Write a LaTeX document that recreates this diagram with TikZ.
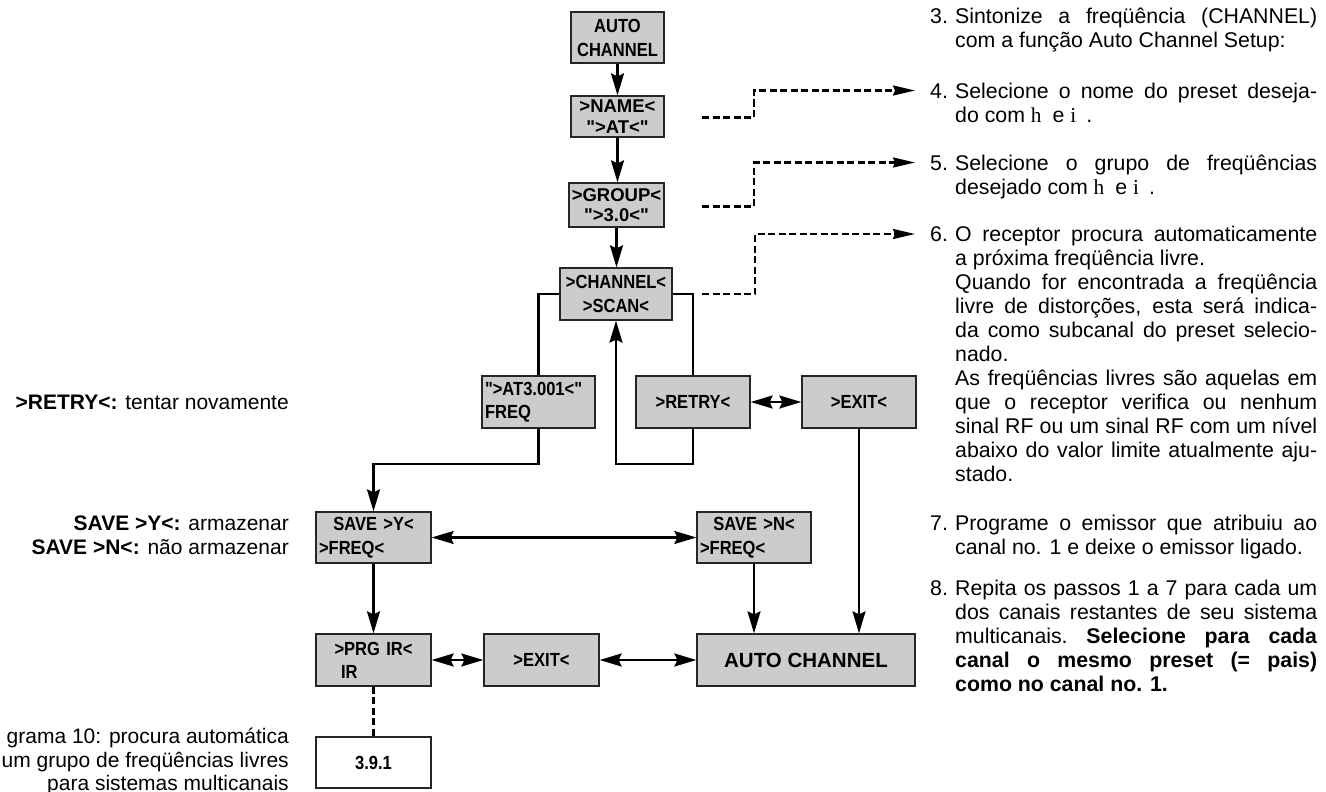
\documentclass[tikz,border=0pt]{standalone}
\usepackage{fontspec}
\setmainfont{Liberation Sans}
\newfontfamily\bxf[FakeStretch=0.87]{Liberation Sans}
\newfontfamily\bxn{Liberation Sans}
\newfontfamily\serf{Liberation Serif}
\usetikzlibrary{arrows.meta}
\definecolor{boxgray}{HTML}{CCCCCC}
\newcommand\myjust[1]{\makebox[362pt][s]{#1}}
\newcommand\mylast[1]{\makebox[362pt][l]{#1}}
\newcommand\mynum[1]{\makebox[25pt][l]{\strut#1}}
\newcommand\myind{\hspace*{25pt}}
\begin{document}
\begin{tikzpicture}[x=1pt,y=-1pt,
  >={Stealth[length=22pt,width=13pt,inset=3pt]},
  box/.style={draw=black!85, line width=1.3pt, fill=boxgray, inner sep=0pt, align=center,
     font=\bxf\bfseries\fontsize{19}{24}\selectfont},
  boxtight/.style={box, font=\bxn\bfseries\fontsize{18.5}{20.5}\selectfont},
  conn/.style={line width=2.2pt},
  dsh/.style={line width=2.3pt, dash pattern=on 7pt off 3.5pt, -{Stealth[length=22pt,width=10pt,inset=2pt]}},
  body/.style={inner sep=0pt, font=\fontsize{21}{23.6}\selectfont},
  item/.style={inner sep=0pt, font=\fontsize{21.3}{24}\selectfont, align=left, anchor=north west},
]
\useasboundingbox (0,0) rectangle (1326,792);
% ---------- boxes
\node[box, minimum width=93pt, minimum height=51pt] (auto) at (617.5,37.5) {AUTO\\CHANNEL};
\node[boxtight, minimum width=93pt, minimum height=41pt] (name) at (617.5,116.5) {>NAME<\\">AT<"};
\node[boxtight, minimum width=95pt, minimum height=44pt] (group) at (616.5,205) {>GROUP<\\">3.0<"};
\node[box, minimum width=112pt, minimum height=52pt] (chan) at (616,294) {>CHANNEL<\\>SCAN<};
\node[box, minimum width=113pt, minimum height=52pt, text width=107pt, align=left, font=\bxf\bfseries\fontsize{19}{23}\selectfont] (at3) at (538.5,402) {">AT3.001<"\\FREQ};
\node[box, minimum width=114pt, minimum height=52pt] (retry) at (693,402) {>RETRY<};
\node[box, minimum width=114pt, minimum height=52pt] (exita) at (859,402) {>EXIT<};
\node[box, minimum width=115pt, minimum height=51pt, text width=109pt, align=left] (savey) at (373.5,537.5) {\makebox[109pt]{SAVE >Y<}\\>FREQ<};
\node[box, minimum width=114pt, minimum height=51pt, text width=108pt, align=left] (saven) at (754,537.5) {\makebox[108pt]{SAVE >N<}\\>FREQ<};
\node[box, minimum width=115pt, minimum height=52pt, text width=109pt, align=left, font=\bxf\bfseries\fontsize{19}{23}\selectfont] (prg) at (373.5,660) {\makebox[109pt]{>PRG IR<}\\\hspace*{22pt}IR};
\node[box, minimum width=115pt, minimum height=52pt] (exitb) at (541.5,660) {>EXIT<};
\node[box, minimum width=218pt, minimum height=52pt, font=\bxn\bfseries\fontsize{20.5}{24}\selectfont] (autoch) at (806,660) {AUTO CHANNEL};
\node[box, fill=white, minimum width=115pt, minimum height=51pt] (b391) at (373.5,762.5) {3.9.1};
% ---------- connectors
\draw[conn,->] (auto.south) -- (auto.south |- name.north);
\draw[conn,->] (name.south) -- (name.south |- group.north);
\draw[conn,->] (group.south) -- (group.south |- chan.north);
\draw[conn] (chan.west) -| (at3.north);
\draw[conn] (chan.east) -| (retry.north);
\coordinate (loopR) at (616,464);
\draw[conn,->] (retry.south) |- (loopR) -- (chan.south);
\coordinate (loopL) at (373.5,464);
\draw[conn,->] (at3.south) |- (loopL) -- (savey.north);
\draw[conn,<->] (retry) -- (exita);
\draw[conn,->] (exita.south) -- (exita.south |- autoch.north);
\draw[conn,<->] (savey) -- (saven);
\draw[conn,->] (savey) -- (prg);
\draw[conn,<->] (prg) -- (exitb);
\draw[conn,<->] (exitb) -- (autoch);
\draw[conn,->] (saven.south) -- (saven.south |- autoch.north);
\draw[line width=2.2pt, dash pattern=on 7pt off 3.5pt] (prg) -- (b391);
% ---------- dashed pointers
\coordinate (d4) at (702,117.5); \coordinate (t4) at (915,90.5);
\coordinate (d5) at (702,206.5); \coordinate (t5) at (915,162.5);
\coordinate (d6) at (702,294);   \coordinate (t6) at (915,234);
\draw[dsh] (d4) -- ++(52,0) |- (t4);
\draw[dsh] (d5) -- ++(52,0) |- (t5);
\draw[dsh] (d6) -- ++(53,0) |- (t6);
% ---------- left texts
\node[body, anchor=east, align=right] (lretry) at (289,402) {\textbf{>RETRY<:} tentar novamente};
\node[body, anchor=east, align=right] (lsave) at (289,535) {\textbf{SAVE >Y<:} armazenar\\\textbf{SAVE >N<:} não armazenar};
\node[body, anchor=north east, align=right] (capt) at (289,728) {grama 10: procura automática\\um grupo de freqüências livres\\para sistemas multicanais};
% ---------- right texts
\node[item] (i3) at (930,6.7) {\mynum{3.}\myjust{Sintonize a freqüência (CHANNEL)}\\
 \myind\mylast{com a função Auto Channel Setup:}};
\node[item] (i4) at (930,81.2) {\mynum{4.}\myjust{Selecione o nome do preset deseja-}\\
 \myind\mylast{do com {\serf h}\hspace{11pt}e {\serf i}\hspace{10pt}.}};
\node[item] (i5) at (930,153.2) {\mynum{5.}\myjust{Selecione o grupo de freqüências}\\
 \myind\mylast{desejado com {\serf h}\hspace{11pt}e {\serf i}\hspace{10pt}.}};
\node[item] (i6) at (930,224.7) {\mynum{6.}\myjust{O receptor procura automaticamente}\\
 \myind\mylast{a próxima freqüência livre.}\\
 \myind\myjust{Quando for encontrada a freqüência}\\
 \myind\myjust{livre de distorções, esta será indica-}\\
 \myind\myjust{da como subcanal do preset selecio-}\\
 \myind\mylast{nado.}\\
 \myind\myjust{As freqüências livres são aquelas em}\\
 \myind\myjust{que o receptor verifica ou nenhum}\\
 \myind\myjust{sinal RF ou um sinal RF com um nível}\\
 \myind\myjust{abaixo do valor limite atualmente aju-}\\
 \myind\mylast{stado.}};
\node[item] (i7) at (930,513.7) {\mynum{7.}\myjust{Programe o emissor que atribuiu ao}\\
 \myind\mylast{canal no. 1 e deixe o emissor ligado.}};
\node[item] (i8) at (930,578.7) {\mynum{8.}\myjust{Repita os passos 1 a 7 para cada um}\\
 \myind\myjust{dos canais restantes de seu sistema}\\
 \myind\myjust{multicanais.\ \textbf{Selecione para cada}}\\
 \myind\myjust{\textbf{canal o mesmo preset (= pais)}}\\
 \myind\mylast{\textbf{como no canal no. 1.}}};
\end{tikzpicture}
\end{document}
